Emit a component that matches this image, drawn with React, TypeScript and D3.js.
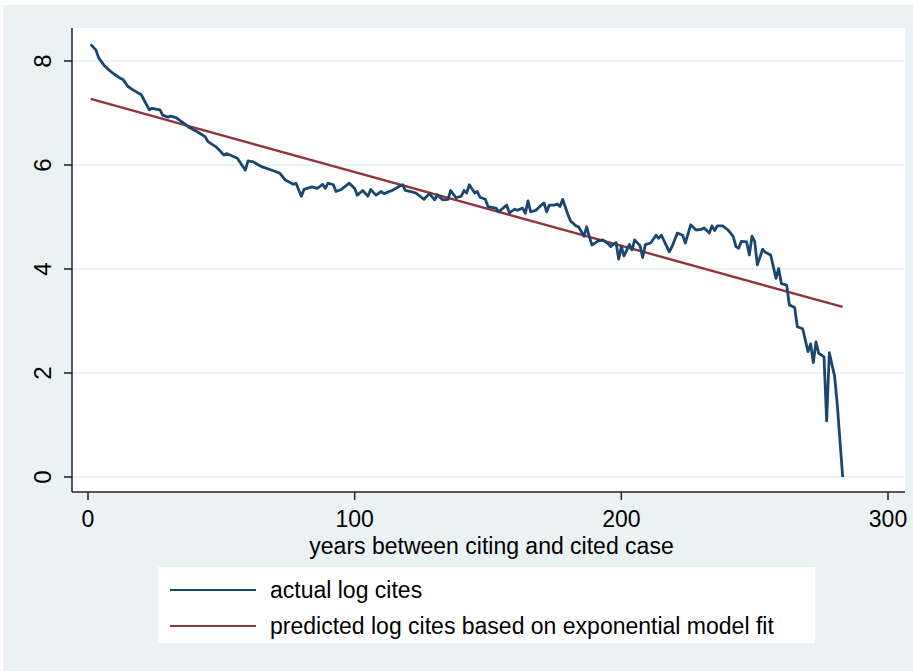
import React from "react";
import * as d3 from "d3";

const years = [1,3,4,6,8,10,12,13,15,17,20,21,23,24,27,28,30,31,33,36,38,41,44,45,48,51,52,56,59,60,62,65,69,70,72,74,77,78,80,81,84,86,88,89,90,92,93,95,98,100,101,103,105,106,108,110,111,114,116,118,119,121,123,125,126,128,130,131,133,135,136,138,140,141,142,143,145,146,147,149,150,153,154,155,157,158,160,161,163,164,165,166,168,170,171,172,173,175,176,177,178,180,181,183,184,186,187,188,189,191,193,195,196,198,199,200,201,203,204,205,207,208,209,211,213,214,215,218,219,221,223,224,226,228,230,231,233,234,235,236,238,240,241,242,243,244,245,247,248,249,250,251,253,254,256,258,259,260,262,263,265,266,268,270,271,272,273,274,276,277,278,280,281,283];
const logCites = [8.32,8.21,8.06,7.92,7.82,7.74,7.67,7.65,7.51,7.44,7.35,7.25,7.06,7.09,7.06,6.96,6.92,6.94,6.91,6.80,6.72,6.64,6.54,6.45,6.35,6.19,6.22,6.13,5.90,6.08,6.06,5.97,5.90,5.88,5.84,5.71,5.63,5.65,5.40,5.53,5.58,5.55,5.63,5.55,5.65,5.62,5.49,5.53,5.65,5.55,5.42,5.51,5.40,5.53,5.42,5.49,5.45,5.51,5.57,5.62,5.51,5.49,5.46,5.38,5.34,5.45,5.33,5.43,5.33,5.34,5.51,5.37,5.40,5.51,5.46,5.62,5.46,5.49,5.38,5.34,5.20,5.17,5.10,5.14,5.23,5.08,5.15,5.13,5.17,5.07,5.31,5.10,5.13,5.23,5.27,5.10,5.23,5.23,5.25,5.20,5.34,5.04,4.92,4.83,4.81,4.63,4.81,4.62,4.46,4.53,4.56,4.49,4.43,4.51,4.19,4.43,4.25,4.47,4.37,4.56,4.45,4.22,4.47,4.50,4.65,4.59,4.65,4.33,4.43,4.69,4.65,4.50,4.85,4.75,4.76,4.79,4.69,4.83,4.74,4.83,4.83,4.75,4.69,4.62,4.43,4.40,4.53,4.52,4.27,4.63,4.53,4.08,4.38,4.32,4.27,3.82,4.01,3.72,3.69,3.31,3.26,2.89,2.85,2.41,2.56,2.20,2.60,2.38,2.31,1.08,2.39,1.93,1.38,0.00];

const fitYears = [1, 283];
const fitValues = [7.27, 3.27];

const xTicks = [0, 100, 200, 300];
const yTicks = [0, 2, 4, 6, 8];
const xTitle = "years between citing and cited case";
const legendLabels = ["actual log cites", "predicted log cites based on exponential model fit"];

const BLUE = "#1a476f";
const RED = "#90353b";
const BG = "#eaf2f3";
const FONT = "'Liberation Sans', Arial, Helvetica, sans-serif";

export default function App() {
  const W = 913, H = 671;
  const plotL = 72, plotR = 905, plotT = 28, axisY = 492;
  const x = d3.scaleLinear().domain([0, 300]).range([88, 888]);
  const y = d3.scaleLinear().domain([0, 8]).range([477, 61]);

  const actual = years.map((yr, i) => [yr, logCites[i]] as [number, number]);
  const fit = fitYears.map((yr, i) => [yr, fitValues[i]] as [number, number]);
  const line = d3.line<[number, number]>().x(d => x(d[0])).y(d => y(d[1]));

  const legX = 158, legY = 567, legW = 657, legH = 76;

  return (
    <svg width={W} height={H} style={{ position: "absolute", left: 0, top: 0 }} fontFamily={FONT}>
      <rect x={0} y={0} width={W} height={H} fill="#ffffff" />
      <rect x={3} y={5} width={W - 3} height={H - 5} fill={BG} />
      <rect x={plotL} y={plotT} width={plotR - plotL} height={axisY - plotT} fill="#ffffff" />
      {yTicks.map(t => (
        <line key={"g" + t} x1={plotL} x2={plotR} y1={y(t)} y2={y(t)} stroke={BG} strokeWidth={1.8} />
      ))}
      <path d={line(fit) || ""} fill="none" stroke={RED} strokeWidth={2.4} />
      <path d={line(actual) || ""} fill="none" stroke={BLUE} strokeWidth={2.8} strokeLinejoin="round" />
      <line x1={plotL} x2={plotL} y1={plotT} y2={axisY} stroke="#222" strokeWidth={1.5} />
      <line x1={plotL} x2={plotR} y1={axisY} y2={axisY} stroke="#222" strokeWidth={1.5} />
      {yTicks.map(t => (
        <g key={"yt" + t}>
          <line x1={plotL - 8} x2={plotL} y1={y(t)} y2={y(t)} stroke="#222" strokeWidth={1.5} />
          <text transform={`translate(51,${y(t)}) rotate(-90)`} textAnchor="middle" fontSize={24} fill="#000">{t}</text>
        </g>
      ))}
      {xTicks.map(t => (
        <g key={"xt" + t}>
          <line x1={x(t)} x2={x(t)} y1={axisY} y2={axisY + 8} stroke="#222" strokeWidth={1.5} />
          <text x={x(t)} y={527} textAnchor="middle" fontSize={23} fill="#000">{t}</text>
        </g>
      ))}
      <text x={(plotL + plotR) / 2 + 3} y={554} textAnchor="middle" fontSize={23} fill="#000">{xTitle}</text>
      <rect x={legX} y={legY} width={legW} height={legH} fill="#ffffff" />
      {legendLabels.map((lab, i) => (
        <g key={lab}>
          <line x1={170} x2={256} y1={590 + i * 36} y2={590 + i * 36} stroke={i === 0 ? BLUE : RED} strokeWidth={2.2} />
          <text x={270} y={598 + i * 36} fontSize={23} fill="#000">{lab}</text>
        </g>
      ))}
    </svg>
  );
}
